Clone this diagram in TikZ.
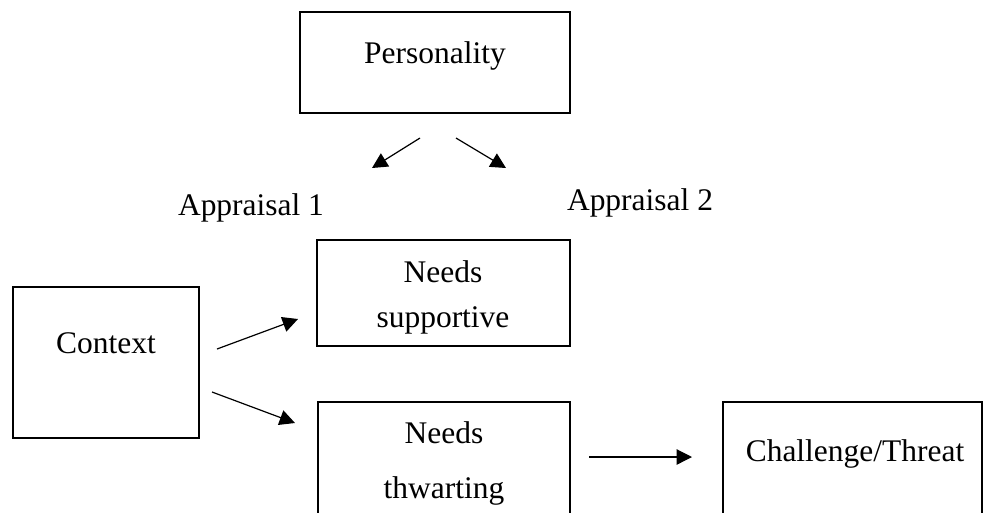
\documentclass[tikz,border=0pt]{standalone}
\usepackage{fontspec}
\setmainfont{Liberation Serif}
\usetikzlibrary{arrows.meta,fit}
\begin{document}
\begin{tikzpicture}[x=0.75pt,y=-0.75pt,
  box/.style={draw=black,line width=1.5pt,inner sep=0pt,rectangle},
  lbl/.style={anchor=base,inner sep=0pt,font=\fontsize{23.6pt}{28pt}\selectfont},
  arr/.style={line width=0.9pt,-{Triangle[length=11.5pt,width=11.5pt]}}]
\clip (0,0) rectangle (984,512);
\fill[white] (0,0) rectangle (984,512);
% boxes
\node[box,fit={(300,12) (570,113)}] (pers) {};
\node[box,fit={(13,287) (199,438)}] (ctx) {};
\node[box,fit={(317,240) (570,346)}] (sup) {};
\node[box,fit={(318,402) (570,540)}] (thw) {};
\node[box,fit={(723,402) (982,540)}] (chal) {};
% texts
\node[lbl] (tpers) at (435,63) {Personality};
\node[lbl] (tapp1) at (251,215) {Appraisal 1};
\node[lbl] (tapp2) at (640,210) {Appraisal 2};
\node[lbl] (tctx) at (106,353) {Context};
\node[lbl] (tsup1) at (443,282) {Needs};
\node[lbl] (tsup2) at (443,327) {supportive};
\node[lbl] (tthw1) at (444,443) {Needs};
\node[lbl] (tthw2) at (444,498) {thwarting};
\node[lbl] (tchal) at (855,461) {Challenge/Threat};
% arrow end points
\coordinate (a1s) at (420,138); \coordinate (a1e) at (372,168);
\coordinate (a2s) at (456,138); \coordinate (a2e) at (506,168);
\coordinate (a3s) at (217,349); \coordinate (a3e) at (298,319);
\coordinate (a4s) at (212,392); \coordinate (a4e) at (295,423);
\coordinate (a5s) at (589,457); \coordinate (a5e) at (692,457);
\draw[arr] (a1s) -- (a1e);
\draw[arr] (a2s) -- (a2e);
\draw[arr] (a3s) -- (a3e);
\draw[arr] (a4s) -- (a4e);
\draw[arr] (a5s) -- (a5e);
\end{tikzpicture}
\end{document}
